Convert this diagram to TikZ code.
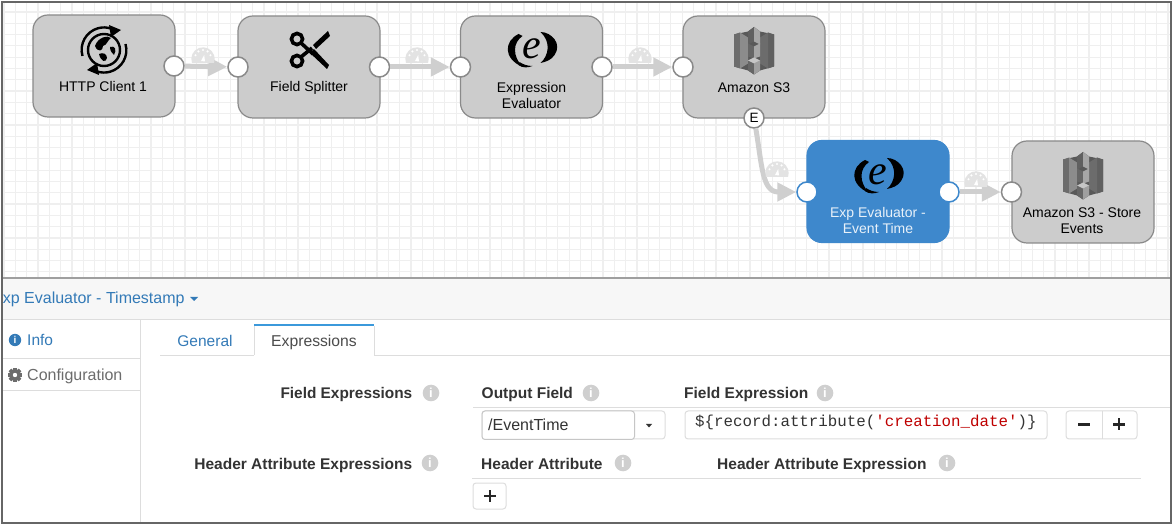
\documentclass[tikz,border=0pt]{standalone}
\usepackage{fontspec}
\setmainfont{Liberation Sans}
\newfontfamily\monof{Liberation Mono}
\newfontfamily\serifbi{Liberation Serif}
\usetikzlibrary{arrows.meta}
\definecolor{grid}{HTML}{EFEFEF}
\definecolor{stagegray}{HTML}{CCCCCC}
\definecolor{stageedge}{HTML}{8A8A8A}
\definecolor{conngray}{HTML}{CFCFCF}
\definecolor{blue1}{HTML}{3E88CC}
\definecolor{link}{HTML}{337AB7}
\definecolor{panelline}{HTML}{DDDDDD}
\definecolor{lab}{HTML}{333333}
\definecolor{infogray}{HTML}{CFCFCF}
\tikzset{
  x=1pt,y=-1pt,
  fs/.style={font=\fontsize{#1}{#1}\selectfont},
  stage/.style={draw=stageedge,line width=1.2pt,fill=stagegray,rounded corners=15pt,minimum width=142pt,minimum height=102pt,inner sep=0pt},
  stageb/.style={stage,draw=blue1,fill=blue1},
  stagetext/.style={align=center,text=black,font=\fontsize{14}{16}\selectfont,inner sep=0pt},
  port/.style={circle,draw=stageedge,line width=1.5pt,fill=white,minimum size=20pt,inner sep=0pt},
  portb/.style={port,draw=blue1},
  conn/.style={draw=conngray,line width=5pt,-{Triangle[length=19pt,width=18pt,fill=conngray]},shorten >=0pt},
  btn/.style={draw=panelline,line width=1pt,rounded corners=3pt,fill=white},
  lbl/.style={text=lab,fs=16,inner sep=0pt,anchor=base west},
  blbl/.style={text=lab,font=\fontsize{15.5}{15.5}\selectfont\bfseries,inner sep=0pt,anchor=base west},
  pics/gauge/.style={code={
    \fill[gray!22!white] (-11,5) arc[start angle=200,end angle=-20,radius=11.7pt] -- cycle;
    \fill[white] (-2,3) -- (1.2,-3) -- (2,3.5) -- cycle;
    \foreach \a in {160,125,90,55,20} \fill[white] (\a:8pt) circle[radius=1.2pt];
  }},
  pics/sthree/.style={code={
    \fill[gray!70!black] (-20,-16) -- (-6,-19) -- (0,-23.5) -- (6,-19) -- (20,-16) -- (20,16) -- (6,20) -- (0,24) -- (-6,20) -- (-20,16) -- cycle;
    \fill[gray!85!black] (-20,-16) -- (-14,-18) -- (-14,18) -- (-20,16) -- cycle;
    \fill[gray!90!white] (-14,-18) -- (-6,-13) -- (-6,13) -- (-14,18) -- cycle;
    \fill[gray!75!black] (20,-16) -- (14,-18) -- (14,18) -- (20,16) -- cycle;
    \fill[gray!85!black] (14,-18) -- (6,-13) -- (6,13) -- (14,18) -- cycle;
    \fill[gray!75!black] (-6,-19) -- (0,-23.5) -- (0,-9) -- (-6,-6) -- cycle;
    \fill[gray!70!white] (0,-23.5) -- (6,-19) -- (6,-6) -- (0,-9) -- cycle;
    \fill[gray!80!black] (-6,-7) -- (0,-4) -- (0,8) -- (-6,6) -- cycle;
    \fill[gray!70!white] (0,-4) -- (6,-7) -- (6,6) -- (0,8) -- cycle;
    \fill[gray!80!black] (-6,10) -- (0,13) -- (0,24) -- (-6,20) -- cycle;
    \fill[gray!75!white] (0,13) -- (6,10) -- (6,20) -- (0,24) -- cycle;
    \fill[gray!45!white] (-6,10) -- (0,7) -- (6,10) -- (0,13) -- cycle;
  }},
  pics/expr/.style={code={
    \node[inner sep=0pt,text=black] at (0,-1) {\serifbi\fontsize{42}{42}\selectfont\itshape e};
    \fill[black] (-13,-16) .. controls (-27,-9) and (-29,8) .. (-9,17) .. controls (-19,6) and (-19,-7) .. (-9,-14) -- cycle;
    \fill[black] (9,-18) .. controls (20,-18) and (31,-6) .. (23,5) .. controls (20,10) and (14,12) .. (9,13) .. controls (17,6) and (20,-8) .. (9,-18) -- cycle;
    \fill[black] (-13,15) .. controls (-9,18) and (-4,18) .. (1,16) .. controls (-5,16) and (-9,14) .. (-12,12) -- cycle;
  }},
  pics/info/.style={code={
    \fill[infogray] (0,0) circle[radius=8.3pt];
    \node[text=white,inner sep=0pt] at (0,0) {\fontsize{13}{13}\selectfont\bfseries i};
  }},
  pics/plus/.style={code={
    \draw[black!85,line width=2.8pt] (-6,0) -- (6,0) (0,-6) -- (0,6);
  }},
}
\begin{document}
\begin{tikzpicture}
\useasboundingbox (0,0) rectangle (1173,526);
\fill[white] (0,0) rectangle (1173,526);
% canvas grid
\foreach \i in {0,...,103} \draw[grid,line width=1.2pt] ({1171-3-11.3*\i},2) -- ({1171-3-11.3*\i},278);
\foreach \i in {0,...,24} \draw[grid,line width=1.2pt] (2,{12+11.3*\i}) -- (1171,{12+11.3*\i});
% stages
\node[stage] (http) at (104,66) {};
\node[stage] (split) at (309,67) {};
\node[stage] (eval) at (531.5,67) {};
\node[stage] (sthree) at (754,67) {};
\node[stageb] (evalb) at (878,191.5) {};
\node[stage] (store) at (1083,192) {};
% icons
\begin{scope}[shift={(104,50)}]
  \draw[black,line width=2.4pt] (0,0) circle[radius=16pt];
  \fill[black] (-9,-4) .. controls (-6,-13) and (4,-15) .. (7,-12) .. controls (3,-9) and (3,-5) .. (-1,-4) .. controls (-1,1) and (-6,3) .. (-9,-4) -- cycle;
  \fill[black] (-5,4) .. controls (-1,2) and (3,4) .. (3,8) .. controls (2,13) and (-3,12) .. (-5,4) -- cycle;
  \fill[black] (6,-3) .. controls (11,-5) and (13,0) .. (10,5) .. controls (8,3) and (6,1) .. (6,-3) -- cycle;
  \draw[black,line width=2.4pt] (-21.5,6) arc[start angle=196,end angle=70,radius=22.4pt];
  \draw[black,line width=2.4pt] (21.5,-6) arc[start angle=16,end angle=-110,radius=22.4pt];
  \fill[black] (5,-25) -- (17,-20) -- (7,-13) -- cycle;
  \fill[black] (-5,25) -- (-17,20) -- (-7,13) -- cycle;
\end{scope}
\begin{scope}[shift={(309,50)}]
  \draw[black,line width=3.6pt] (-12,-11) circle[radius=5.6pt];
  \draw[black,line width=3.6pt] (-12,11) circle[radius=5.6pt];
  \draw[black,line width=3.6pt] (-8,-7) -- (4,4);
  \draw[black,line width=3.6pt] (-8,7) -- (3,-2);
  \fill[black] (1,3) -- (5,-1) -- (20,15) -- (18,19) -- cycle;
  \fill[black] (4,-5) -- (7,-1) -- (21,-14) -- (19,-19) -- cycle;
\end{scope}
\pic at (531.5,50) {expr};
\pic at (878,176) {expr};
\pic at (754,50.5) {sthree};
\pic at (1083,175.5) {sthree};
% stage labels
\node[stagetext] (t1) at (103,86.5) {HTTP Client 1};
\node[stagetext] (t2) at (309,87.5) {Field Splitter};
\node[stagetext] (t3) at (531.5,95.5) {Expression\\Evaluator};
\node[stagetext] (t4) at (754,87.5) {Amazon S3};
\node[stagetext,text=white!88!blue1] (t5) at (878,220.5) {Exp Evaluator -\\Event Time};
\node[stagetext] (t6) at (1082,220.5) {Amazon S3 - Store\\Events};
% ports
\node[port] (p1) at (174,66) {};
\node[port] (p2) at (238,67) {};
\node[port] (p3) at (379.5,67) {};
\node[port] (p4) at (460.5,67) {};
\node[port] (p5) at (602,67) {};
\node[port] (p6) at (683,67) {};
\node[port,font=\fontsize{13.5}{13.5}\selectfont] (pe) at (754,118) {E};
\node[portb] (p7) at (807,192) {};
\node[portb] (p8) at (949,192) {};
\node[port] (p9) at (1011.5,192) {};
% connectors
\draw[conn] (p1) -- (p2);
\draw[conn] (p3) -- (p4);
\draw[conn] (p5) -- (p6);
\draw[conn] (pe) .. controls (762,165) and (762,192) .. (p7);
\draw[conn] (p8) -- (p9);
\pic at (203,58) {gauge};
\pic at (417,58) {gauge};
\pic at (640,58) {gauge};
\pic at (777,172) {gauge};
\pic at (976,182) {gauge};
% panel
\fill[white] (2,278) rectangle (1171,523);
\fill[gray!6!white] (2,279) rectangle (1171,320);
\draw[gray!75!white,line width=1.2pt] (2,278) -- (1171,278);
\draw[panelline,line width=1pt] (2,320) -- (1171,320);
\begin{scope}
\clip (2.5,279) rectangle (300,320);
\node[text=link,fs=16,inner sep=0pt,anchor=base west] (title) at (-8,304) {Exp Evaluator - Timestamp};
\end{scope}
\fill[link] (190,297) -- (198,297) -- (194,301) -- cycle;
% left tabs
\draw[panelline,line width=1pt] (140,320) -- (140,523);
\draw[panelline,line width=1pt] (2,359) -- (140,359);
\draw[panelline,line width=1pt] (2,390.5) -- (140,390.5);
\fill[link] (15,340) circle[radius=6.2pt];
\node[text=white,inner sep=0pt] at (15,340) {\fontsize{10}{10}\selectfont\bfseries i};
\node[text=link,fs=15.5,inner sep=0pt,anchor=base west] (info) at (27,345.5) {Info};
\begin{scope}[shift={(15,375)}]
  \foreach \a in {0,45,...,315} \fill[gray!85!black,rotate=\a] (-1.8,-7) rectangle (1.8,7);
  \fill[gray!85!black] (0,0) circle[radius=5.2pt];
  \fill[white] (0,0) circle[radius=2.2pt];
\end{scope}
\node[lbl,text=gray!85!black] (conf) at (27,380.5) {Configuration};
% top tabs
\draw[panelline,line width=1pt] (160,355.5) -- (1171,355.5);
\fill[white] (254,325) rectangle (374,356);
\draw[panelline,line width=1pt] (254,326) -- (254,355.5);
\draw[panelline,line width=1pt] (374,326) -- (374,355.5);
\fill[cyan!70!blue!80!white] (254,324) rectangle (374,326.5);
\node[text=link,fs=15.5,inner sep=0pt,anchor=base] (gen) at (205,346.5) {General};
\node[text=gray!60!black,fs=15.7,inner sep=0pt,anchor=base] (exprs) at (314,346.5) {Expressions};
% form
\node[blbl,anchor=base east,font=\fontsize{15.4}{15.4}\selectfont\bfseries] (fe) at (412.5,399) {Field Expressions};
\pic at (431,393) {info};
\node[blbl] (of) at (481.5,399) {Output Field};
\pic at (591,393) {info};
\node[blbl] (fx) at (684,399) {Field Expression};
\pic at (825,393) {info};
\draw[panelline,line width=1pt] (473,407.5) -- (1171,407.5);
% output field inputs
\draw[btn] (482,411) rectangle (665,439);
\draw[btn,draw=gray!45!white] (482,411) rectangle (634.5,439.5);
\node[text=lab,fs=16,inner sep=0pt,anchor=base west] (ev) at (488,431) {/EventTime};
\fill[lab] (646,424) -- (652,424) -- (649,427.5) -- cycle;
\draw[btn] (685,411) rectangle (1047,439);
\node[text=lab,inner sep=0pt,anchor=base west,font=\monof\fontsize{15.8}{16}\selectfont] (code) at (695,427) {\$\{record:attribute(\textcolor{red!75!black}{'creation\_date'})\}};
\draw[btn] (1066,411) rectangle (1137,439);
\draw[panelline,line width=1pt] (1102,411) -- (1102,439);
\draw[black!85,line width=2.8pt] (1078,424.5) -- (1090,424.5);
\pic at (1119,424.5) {plus};
% header attribute row
\node[blbl,anchor=base east] (hx) at (412.5,470) {Header Attribute Expressions};
\pic at (430,463) {info};
\node[blbl] (ha) at (481,470) {Header Attribute};
\pic at (623,463) {info};
\node[blbl] (hae) at (717,470) {Header Attribute Expression};
\pic at (947,463) {info};
\draw[panelline,line width=1pt] (472,478) -- (1141,478);
\draw[btn] (473,483) rectangle (506,509);
\pic at (490,496) {plus};
% frame
\draw[gray!80!black,line width=1.3pt] (2,2) rectangle (1171,523);
\end{tikzpicture}
\end{document}
